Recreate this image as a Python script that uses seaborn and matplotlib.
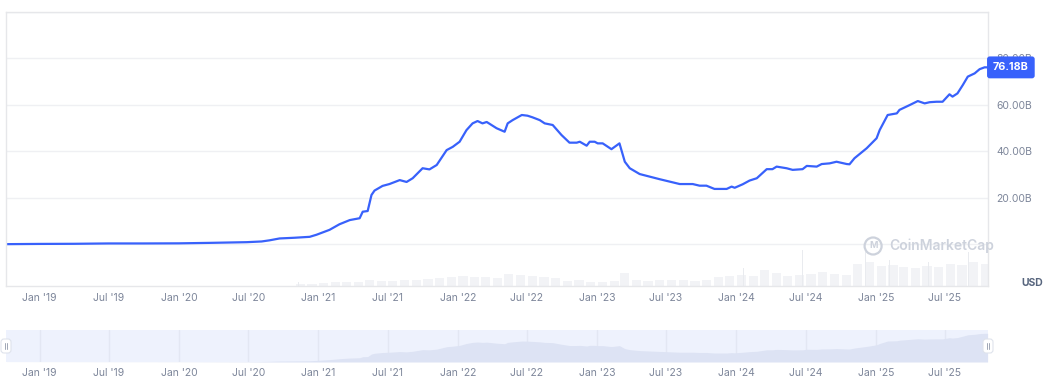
import numpy as np
import pandas as pd
import matplotlib
matplotlib.use("Agg")
import matplotlib.pyplot as plt
import matplotlib.transforms as mtransforms
from matplotlib.patches import FancyBboxPatch
from matplotlib.lines import Line2D
import seaborn as sns

# ---------------- data ----------------
dates = [
    "2018-10-07", "2019-01-01", "2019-04-01", "2019-07-01", "2019-10-01", "2020-01-01",
    "2020-03-22", "2020-06-27", "2020-08-05", "2020-08-26", "2020-09-21", "2020-10-30",
    "2020-12-09", "2020-12-27", "2021-01-30", "2021-02-25", "2021-03-24", "2021-04-19",
    "2021-04-27", "2021-05-10", "2021-05-20", "2021-05-28", "2021-06-18", "2021-07-06",
    "2021-08-02", "2021-08-20", "2021-09-05", "2021-10-01", "2021-10-19", "2021-11-07",
    "2021-12-03", "2021-12-19", "2022-01-06", "2022-01-24", "2022-02-09", "2022-02-22",
    "2022-03-07", "2022-03-18", "2022-04-13", "2022-05-04", "2022-05-12", "2022-05-25",
    "2022-06-18", "2022-07-03", "2022-07-16", "2022-08-04", "2022-08-17", "2022-09-07",
    "2022-09-30", "2022-10-21", "2022-11-09", "2022-11-17", "2022-12-05", "2022-12-13",
    "2022-12-26", "2023-01-03", "2023-01-16", "2023-02-08", "2023-03-01", "2023-03-15",
    "2023-03-28", "2023-04-23", "2023-06-14", "2023-08-06", "2023-09-09", "2023-09-27",
    "2023-10-15", "2023-11-05", "2023-12-07", "2023-12-20", "2023-12-28", "2024-01-18",
    "2024-02-05", "2024-02-24", "2024-03-21", "2024-04-05", "2024-04-16", "2024-05-12",
    "2024-05-28", "2024-06-23", "2024-07-04", "2024-07-30", "2024-08-12", "2024-09-02",
    "2024-09-20", "2024-10-17", "2024-10-24", "2024-11-06", "2024-12-08", "2025-01-03",
    "2025-01-11", "2025-02-01", "2025-02-25", "2025-03-04", "2025-03-31", "2025-04-21",
    "2025-05-09", "2025-05-22", "2025-06-09", "2025-06-25", "2025-07-13", "2025-07-21",
    "2025-08-03", "2025-08-17", "2025-08-30", "2025-09-17", "2025-09-30", "2025-10-13",
    "2025-10-21",
]
market_cap_b = [
    0.15, 0.25, 0.3, 0.45, 0.45, 0.5,
    0.7, 1.0, 1.3, 1.8, 2.6, 2.9,
    3.3, 4.2, 6.3, 8.7, 10.5, 11.3,
    14.1, 14.4, 21.3, 23.2, 25.2, 26.0,
    27.7, 26.9, 28.5, 32.8, 32.3, 34.2,
    40.6, 42.0, 44.2, 49.2, 52.1, 53.1,
    52.1, 52.7, 50.0, 48.5, 52.1, 53.5,
    55.7, 55.4, 54.7, 53.5, 52.1, 51.4,
    47.1, 43.8, 43.8, 44.2, 42.5, 44.2,
    44.2, 43.5, 43.5, 41.0, 43.5, 35.6,
    32.8, 30.3, 28.1, 26.0, 26.0, 25.3,
    25.3, 23.9, 23.9, 24.9, 24.4, 25.9,
    27.5, 28.5, 32.4, 32.4, 33.5, 32.8,
    32.1, 32.4, 33.8, 33.5, 34.6, 34.9,
    35.6, 34.6, 34.5, 37.1, 41.4, 45.7,
    49.2, 55.7, 56.4, 57.9, 60.0, 61.7,
    60.7, 61.2, 61.4, 61.4, 64.6, 63.6,
    65.0, 68.6, 72.2, 73.6, 75.4, 76.2,
    76.18,
]

volume_months = pd.date_range("2020-11-01", "2025-10-01", freq="MS") + pd.Timedelta(days=14)
volume_month_b = [
    2, 2,
    3, 4, 4, 4, 6, 5, 5, 6, 6, 7, 8, 9,
    10, 9, 9, 8, 12, 11, 10, 9, 8, 5, 6, 4,
    4, 5, 13, 6, 5, 6, 6, 6, 5, 6, 9, 10,
    11, 10, 16, 13, 10, 11, 12, 14, 12, 11, 22, 24,
    20, 21, 19, 18, 20, 19, 22, 21, 24, 22,
]
volume_spike_dates = ["2020-11-10", "2024-01-20", "2024-06-23", "2024-12-05",
                      "2025-02-05", "2025-05-20", "2025-09-01"]
volume_spike_b = [4, 18, 36, 34, 26, 24, 34]

tick_dates = ["2019-01-01", "2019-07-01", "2020-01-01", "2020-07-01", "2021-01-01",
              "2021-07-01", "2022-01-01", "2022-07-01", "2023-01-01", "2023-07-01",
              "2024-01-01", "2024-07-01", "2025-01-01", "2025-07-01"]
tick_labels = ["Jan '19", "Jul '19", "Jan '20", "Jul '20", "Jan '21", "Jul '21", "Jan '22",
               "Jul '22", "Jan '23", "Jul '23", "Jan '24", "Jul '24", "Jan '25", "Jul '25"]
price_ticks = [0, 20, 40, 60, 80, 100]
price_tick_labels = ["", "20.00B", "40.00B", "60.00B", "80.00B", ""]
last_value_label = "76.18B"
currency_label = "USD"
watermark = "CoinMarketCap"

# ---------------- style ----------------
sns.set_theme(style="white")
plt.rcParams["font.family"] = ["Inter", "DejaVu Sans"]

BLUE = "#3861FB"
GRID = "#eff0f3"
BORDER = "#e6e7ea"
TXT = "#7d869a"

W, H = 1046, 386
fig = plt.figure(figsize=(W / 100, H / 100), dpi=100)
fig.patch.set_facecolor("white")


def rect(x0, y0, x1, y1):
    return [x0 / W, 1 - y1 / H, (x1 - x0) / W, (y1 - y0) / H]


df = pd.DataFrame({"date": pd.to_datetime(dates), "cap": market_cap_b})
xmin, xmax = pd.Timestamp("2018-10-05"), pd.Timestamp("2025-10-22")

# volume axes (underneath)
axv = fig.add_axes(rect(6, 12, 988, 286))
axv.bar(volume_months, volume_month_b, width=24, color="#f2f3f6", linewidth=0)
axv.bar(pd.to_datetime(volume_spike_dates), volume_spike_b, width=2.5, color="#e9ebef", linewidth=0)
axv.set_ylim(0, 274)
axv.set_xlim(xmin, xmax)
axv.axis("off")

# main axes
ax = fig.add_axes(rect(6, 12, 988, 286))
ax.patch.set_alpha(0)
sns.lineplot(data=df, x="date", y="cap", ax=ax, color=BLUE, linewidth=1.6)
ax.set_xlim(xmin, xmax)
ax.set_ylim(-17.85, 100)
ax.set_xlabel("")
ax.set_ylabel("")
ax.yaxis.tick_right()
ax.set_yticks(price_ticks)
ax.set_yticklabels(price_tick_labels)
ax.set_xticks(pd.to_datetime(tick_dates))
ax.set_xticklabels(tick_labels)
ax.tick_params(axis="y", length=0, pad=6, labelsize=7.5, labelcolor=TXT)
ax.tick_params(axis="x", length=0, pad=5, labelsize=7.5, labelcolor=TXT)
ax.grid(axis="y", color=GRID, linewidth=1)
ax.grid(axis="x", visible=False)
for s in ax.spines.values():
    s.set_visible(True)
    s.set_color(BORDER)
    s.set_linewidth(1)

# last value tag (covers the 80.00B label, as in the reference)
trans = mtransforms.blended_transform_factory(ax.transAxes, ax.transData)
ax.text(1.0 + 5 / 982, market_cap_b[-1], last_value_label, transform=trans, ha="left", va="center",
        fontsize=7.8, fontweight="bold", color="white", zorder=10, clip_on=False,
        bbox=dict(boxstyle="round,pad=0.55,rounding_size=0.25", fc=BLUE, ec="none"))

# watermark
ax.scatter([0.883], [0.146], s=150, facecolors="none", edgecolors="#cdd2dc", linewidths=1.6,
           transform=ax.transAxes, zorder=1)
ax.text(0.883, 0.146, "M", transform=ax.transAxes, ha="center", va="center", fontsize=6.5,
        color="#cdd2dc", fontweight="bold")
ax.text(0.899, 0.146, watermark, transform=ax.transAxes, ha="left", va="center",
        fontsize=10, color="#cdd2dc", fontweight="semibold")

fig.text(1032 / W, 1 - 283 / H, currency_label, ha="center", va="center", fontsize=7.5,
         fontweight="bold", color="#58667e")

# navigator
axn = fig.add_axes(rect(6, 330, 988, 362))
axn.set_facecolor("#eef2fd")
axn.fill_between(df["date"], df["cap"], 0, color="#dde3f4", linewidth=0)
axn.set_xlim(xmin, xmax)
axn.set_ylim(0, 85)
axn.set_yticks([])
axn.set_xticks(pd.to_datetime(tick_dates))
axn.set_xticklabels(tick_labels)
axn.tick_params(axis="x", length=0, pad=4, labelsize=7.5, labelcolor=TXT)
axn.grid(axis="x", color="#e3e7f3", linewidth=1)
axn.grid(axis="y", visible=False)
for s in axn.spines.values():
    s.set_visible(False)

# navigator handles
ident = mtransforms.IdentityTransform()
for cx in (6, 988):
    cy = H - 346
    fig.add_artist(FancyBboxPatch((cx - 5, cy - 7), 10, 14,
                                  boxstyle="round,pad=0,rounding_size=3",
                                  fc="white", ec="#dfe3ec", lw=0.8, transform=ident))
    for dx in (-1.2, 1.2):
        fig.add_artist(Line2D([cx + dx, cx + dx], [cy - 3, cy + 3], color="#a0a7b5",
                              lw=0.7, transform=ident))

fig.savefig("out.png", dpi=100, facecolor="white")
